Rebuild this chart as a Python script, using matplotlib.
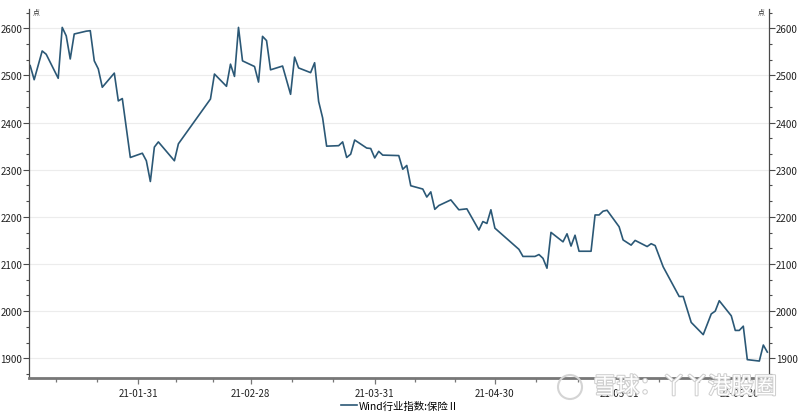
import matplotlib
matplotlib.use("Agg")
import matplotlib.pyplot as plt
import matplotlib.dates as mdates
import matplotlib.patheffects as pe
from matplotlib.patches import Ellipse
from matplotlib.ticker import AutoMinorLocator, FixedLocator
import pandas as pd

plt.rcParams["font.family"] = ["Noto Sans CJK SC", "DejaVu Sans"]

# data (turning points of the line)
dates = [
    "2021-01-04", "2021-01-05", "2021-01-07", "2021-01-08", "2021-01-11",
    "2021-01-12", "2021-01-13", "2021-01-14", "2021-01-15", "2021-01-18",
    "2021-01-19", "2021-01-20", "2021-01-21", "2021-01-22", "2021-01-25",
    "2021-01-26", "2021-01-27", "2021-01-29", "2021-02-01", "2021-02-02",
    "2021-02-03", "2021-02-04", "2021-02-05", "2021-02-09", "2021-02-10",
    "2021-02-18", "2021-02-19", "2021-02-22", "2021-02-23", "2021-02-24",
    "2021-02-25", "2021-02-26", "2021-03-01", "2021-03-02", "2021-03-03",
    "2021-03-04", "2021-03-05", "2021-03-08", "2021-03-10", "2021-03-11",
    "2021-03-12", "2021-03-15", "2021-03-16", "2021-03-17", "2021-03-18",
    "2021-03-19", "2021-03-22", "2021-03-23", "2021-03-24", "2021-03-25",
    "2021-03-26", "2021-03-29", "2021-03-30", "2021-03-31", "2021-04-01",
    "2021-04-02", "2021-04-06", "2021-04-07", "2021-04-08", "2021-04-09",
    "2021-04-12", "2021-04-13", "2021-04-14", "2021-04-15", "2021-04-16",
    "2021-04-19", "2021-04-21", "2021-04-23", "2021-04-26", "2021-04-27",
    "2021-04-28", "2021-04-29", "2021-04-30", "2021-05-06", "2021-05-07",
    "2021-05-10", "2021-05-11", "2021-05-12", "2021-05-13", "2021-05-14",
    "2021-05-17", "2021-05-18", "2021-05-19", "2021-05-20", "2021-05-21",
    "2021-05-24", "2021-05-25", "2021-05-26", "2021-05-27", "2021-05-28",
    "2021-05-31", "2021-06-01", "2021-06-03", "2021-06-04", "2021-06-07",
    "2021-06-08", "2021-06-09", "2021-06-11", "2021-06-15", "2021-06-16",
    "2021-06-18", "2021-06-21", "2021-06-23", "2021-06-24", "2021-06-25",
    "2021-06-28", "2021-06-29", "2021-06-30", "2021-07-01", "2021-07-02",
    "2021-07-05", "2021-07-06", "2021-07-07",
]
values = [
    2521, 2491, 2552, 2545, 2494,
    2602, 2584, 2535, 2588, 2594,
    2595, 2531, 2514, 2475, 2505,
    2446, 2451, 2326, 2335, 2319,
    2275, 2348, 2359, 2319, 2355,
    2450, 2503, 2477, 2524, 2498,
    2602, 2531, 2519, 2486, 2583,
    2574, 2512, 2520, 2460, 2539,
    2516, 2506, 2527, 2445, 2410,
    2350, 2351, 2359, 2326, 2333,
    2363, 2346, 2345, 2325, 2339,
    2331, 2330, 2301, 2309, 2266,
    2259, 2242, 2253, 2216, 2224,
    2236, 2215, 2217, 2172, 2190,
    2186, 2215, 2176, 2131, 2116,
    2116, 2120, 2112, 2091, 2167,
    2147, 2164, 2138, 2161, 2127,
    2127, 2204, 2204, 2212, 2214,
    2179, 2151, 2140, 2150, 2137,
    2143, 2139, 2094, 2031, 2031,
    1976, 1950, 1994, 2000, 2022,
    1990, 1959, 1959, 1968, 1897,
    1894, 1928, 1913,
]
month_ends = [
    "2020-12-31", "2021-01-31", "2021-02-28", "2021-03-31",
    "2021-04-30", "2021-05-31", "2021-06-30", "2021-07-31",
]
yticks = [1900, 2000, 2100, 2200, 2300, 2400, 2500, 2600]
series_name = "Wind行业指数:保险Ⅱ"
unit = "点"
watermark = "雪球：丫丫港股圈"

line_color = "#2b5876"
axis_color = "#4a4a4a"

fig = plt.figure(figsize=(8, 4.14), dpi=100)
ax = fig.add_axes([0.03625, 0.0845, 0.925, 0.8913])

x = pd.to_datetime(dates)
(line,) = ax.plot(x, values, color=line_color, lw=1.2, label=series_name)

ax.set_ylim(1858, 2641)
ax.set_xlim(x[0] - pd.Timedelta(hours=7), x[-1] + pd.Timedelta(hours=10))

# month-end majors, minors at thirds of each month
me = mdates.date2num(pd.to_datetime(month_ends))
minors = []
for a, b in zip(me[:-1], me[1:]):
    minors += [a + (b - a) / 3, a + 2 * (b - a) / 3]
ax.xaxis.set_major_locator(FixedLocator(me[1:-1]))
ax.xaxis.set_minor_locator(FixedLocator(minors))
ax.xaxis.set_major_formatter(mdates.DateFormatter("%y-%m-%d"))

ax.set_yticks(yticks)
ax.yaxis.set_minor_locator(AutoMinorLocator(3))
ax.grid(axis="y", color="#ececec", lw=0.8)
ax.set_axisbelow(True)

ax2 = ax.twinx()
ax2.set_ylim(ax.get_ylim())
ax2.set_yticks(yticks)
ax2.yaxis.set_minor_locator(AutoMinorLocator(3))

for s in ["top", "right"]:
    ax.spines[s].set_visible(False)
for s in ["top", "left", "bottom"]:
    ax2.spines[s].set_visible(False)
ax.spines["left"].set_color(axis_color)
ax.spines["left"].set_linewidth(0.9)
ax2.spines["right"].set_color(axis_color)
ax2.spines["right"].set_linewidth(0.9)
ax.spines["bottom"].set_color("#777777")
ax.spines["bottom"].set_linewidth(2)

for a in (ax, ax2):
    a.tick_params(axis="y", which="major", direction="out", length=4, width=0.8,
                  color=axis_color, labelsize=7, pad=1, labelcolor="#222222")
    a.tick_params(axis="y", which="minor", direction="out", length=2.5,
                  width=0.8, color=axis_color)
ax.tick_params(axis="x", which="major", direction="out", length=4, width=0.9,
               color="#777777", labelsize=7, pad=3, labelcolor="#222222")
ax.tick_params(axis="x", which="minor", direction="out", length=3, width=0.9,
               color="#777777")

fig.text(33 / 800, 1 - 12 / 414, unit, fontsize=5, color="#333333",
         ha="left", va="center")
fig.text(765 / 800, 1 - 12 / 414, unit, fontsize=5, color="#333333",
         ha="right", va="center")

fig.legend(handles=[line], loc="center", bbox_to_anchor=(0.5, 1 - 407 / 414),
           frameon=False, fontsize=7.5, handlelength=1.5, handletextpad=0.2)

# watermark of the image host
fig.patches.append(Ellipse((570 / 800, 1 - 388 / 414), 24 / 800, 24 / 414,
                           transform=fig.transFigure, fill=False,
                           ec="#d4d4d4", lw=1.5))
fig.text(685 / 800, 1 - 388 / 414, watermark, fontsize=16.5, color="white",
         ha="center", va="center",
         path_effects=[pe.withStroke(linewidth=1.5, foreground="#cfcfcf")])

fig.savefig("out.png", dpi=100)
